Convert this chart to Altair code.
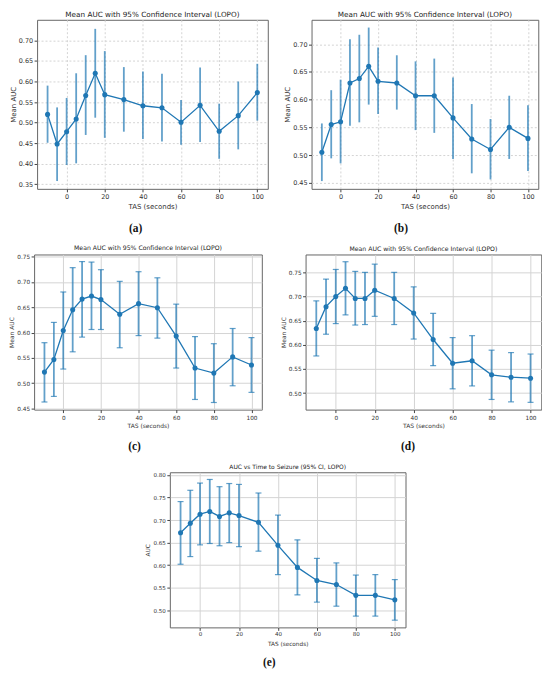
import altair as alt
import pandas as pd

tas = [-10, -5, 0, 5, 10, 15, 20, 30, 40, 50, 60, 70, 80, 90, 100]
x_ticks = [0, 20, 40, 60, 80, 100]

a_mean = [0.520, 0.448, 0.478, 0.509, 0.566, 0.620, 0.568, 0.556, 0.541, 0.536, 0.501, 0.542, 0.479, 0.517, 0.573]
a_lo = [0.451, 0.358, 0.397, 0.401, 0.470, 0.512, 0.463, 0.478, 0.460, 0.454, 0.446, 0.453, 0.412, 0.435, 0.505]
a_hi = [0.590, 0.537, 0.560, 0.620, 0.664, 0.728, 0.674, 0.635, 0.624, 0.619, 0.555, 0.634, 0.546, 0.600, 0.643]

b_mean = [0.505, 0.555, 0.560, 0.630, 0.638, 0.660, 0.633, 0.630, 0.607, 0.607, 0.567, 0.529, 0.510, 0.550, 0.530]
b_lo = [0.453, 0.494, 0.485, 0.553, 0.559, 0.591, 0.574, 0.582, 0.545, 0.540, 0.493, 0.467, 0.456, 0.493, 0.471]
b_hi = [0.557, 0.617, 0.636, 0.709, 0.717, 0.730, 0.694, 0.680, 0.669, 0.674, 0.640, 0.592, 0.565, 0.607, 0.590]

c_mean = [0.522, 0.547, 0.604, 0.645, 0.666, 0.672, 0.665, 0.636, 0.657, 0.649, 0.593, 0.530, 0.520, 0.552, 0.536]
c_lo = [0.463, 0.474, 0.528, 0.562, 0.591, 0.606, 0.606, 0.570, 0.594, 0.589, 0.530, 0.468, 0.462, 0.495, 0.482]
c_hi = [0.580, 0.620, 0.680, 0.728, 0.740, 0.739, 0.724, 0.701, 0.720, 0.708, 0.656, 0.592, 0.578, 0.608, 0.590]

d_mean = [0.634, 0.679, 0.700, 0.717, 0.696, 0.696, 0.713, 0.696, 0.666, 0.611, 0.562, 0.567, 0.538, 0.533, 0.531]
d_lo = [0.577, 0.622, 0.644, 0.662, 0.641, 0.642, 0.659, 0.642, 0.612, 0.557, 0.509, 0.515, 0.487, 0.482, 0.481]
d_hi = [0.691, 0.736, 0.756, 0.772, 0.752, 0.750, 0.767, 0.750, 0.720, 0.665, 0.615, 0.619, 0.589, 0.584, 0.581]

e_mean = [0.672, 0.693, 0.713, 0.719, 0.708, 0.716, 0.710, 0.695, 0.644, 0.595, 0.566, 0.557, 0.533, 0.533, 0.523]
e_lo = [0.602, 0.619, 0.645, 0.648, 0.643, 0.650, 0.641, 0.631, 0.579, 0.534, 0.518, 0.509, 0.487, 0.487, 0.478]
e_hi = [0.741, 0.766, 0.782, 0.790, 0.774, 0.781, 0.779, 0.760, 0.711, 0.656, 0.615, 0.605, 0.578, 0.579, 0.568]

a_yticks = [0.35, 0.40, 0.45, 0.50, 0.55, 0.60, 0.65, 0.70]
b_yticks = [0.45, 0.50, 0.55, 0.60, 0.65, 0.70]
c_yticks = [0.45, 0.50, 0.55, 0.60, 0.65, 0.70, 0.75]
d_yticks = [0.50, 0.55, 0.60, 0.65, 0.70, 0.75]
e_yticks = [0.50, 0.55, 0.60, 0.65, 0.70, 0.75, 0.80]

TITLE_ABCD = "Mean AUC with 95% Confidence Interval (LOPO)"
TITLE_E = "AUC vs Time to Seizure (95% CI, LOPO)"

BLUE = "#1f77b4"


def panel(mean, lo, hi, title, ytitle, yticks, ydom, w, h, caption, cap_x, cap_y,
          tfs, lfs, afs, dash, caps):
    df = pd.DataFrame({"tas": tas, "mean": mean, "lo": lo, "hi": hi})
    base = alt.Chart(df)
    xscale = alt.Scale(domain=[-15.5, 105.5], nice=False, zero=False)
    yscale = alt.Scale(domain=ydom, nice=False, zero=False)
    common = dict(labelFontSize=lfs, titleFontSize=afs, tickSize=3, labelPadding=1.5,
                  grid=True, gridDash=dash, gridColor="#d4d4d4", domain=False,
                  tickColor="#444", labelColor="#333", titleColor="#333",
                  labelFont="DejaVu Sans", titleFont="DejaVu Sans",
                  titleFontWeight="normal")
    xaxis = alt.Axis(values=x_ticks, title="TAS (seconds)", titlePadding=3, **common)
    yaxis = alt.Axis(values=yticks, format=".2f", title=ytitle, titlePadding=2, **common)
    x = alt.X("tas:Q", scale=xscale, axis=xaxis)
    err = base.mark_rule(color=BLUE, opacity=0.7, strokeWidth=1.8).encode(
        x=x, y=alt.Y("lo:Q", scale=yscale, axis=yaxis), y2="hi:Q")
    line = base.mark_line(color=BLUE, strokeWidth=1.3).encode(
        x=x, y=alt.Y("mean:Q", scale=yscale, axis=yaxis))
    pts = base.mark_circle(color=BLUE, size=26, opacity=1).encode(
        x=x, y=alt.Y("mean:Q", scale=yscale, axis=yaxis))
    layers = [err, line, pts]
    if caps:
        for f in ["lo", "hi"]:
            layers.append(base.mark_tick(color=BLUE, opacity=0.7, orient="horizontal",
                                         size=6, thickness=1.2).encode(
                x=x, y=alt.Y(f + ":Q", scale=yscale, axis=yaxis)))
    cap = alt.Chart(pd.DataFrame({"c": [caption]})).mark_text(
        font="Liberation Serif", fontSize=11.5, fontWeight="bold", baseline="middle",
        align="center", color="#111").encode(text="c:N", x=alt.value(cap_x), y=alt.value(cap_y))
    layers.append(cap)
    return alt.layer(*layers).properties(
        width=w, height=h,
        title=alt.Title(title, fontSize=tfs, offset=2, font="DejaVu Sans",
                        fontWeight="normal", color="#222"))


pa = panel(a_mean, a_lo, a_hi, TITLE_ABCD, "Mean AUC", a_yticks, [0.339, 0.750], 232, 170,
           "(a)", 99, 210, 7.3, 6.5, 7, [2, 2], False)
pb = panel(b_mean, b_lo, b_hi, TITLE_ABCD, "Mean AUC", b_yticks, [0.439, 0.744], 228, 170,
           "(b)", 90, 210, 7.3, 6.5, 7, [2, 2], False)
pc = panel(c_mean, c_lo, c_hi, TITLE_ABCD, "Mean AUC", c_yticks, [0.448, 0.754], 229, 156,
           "(c)", 101, 194, 6.2, 5.8, 6, [], True)
pd_ = panel(d_mean, d_lo, d_hi, TITLE_ABCD, "Mean AUC", d_yticks, [0.466, 0.787], 237, 156,
            "(d)", 103, 194, 6.2, 5.8, 6, [], True)
pe = panel(e_mean, e_lo, e_hi, TITLE_E, "AUC", e_yticks, [0.462, 0.806], 237, 156,
           "(e)", 100, 192, 6, 5.6, 5.8, [], True)

row1 = alt.hconcat(pa, pb, spacing=14)
row2 = alt.hconcat(pc, pd_, spacing=17)

chart = alt.vconcat(row1, row2, pe, spacing=10, center=True).properties(
    padding=0, background="white"
).configure_view(stroke="#666", strokeWidth=1)

chart.save("out.html", embed_options={"renderer": "svg", "actions": False})
